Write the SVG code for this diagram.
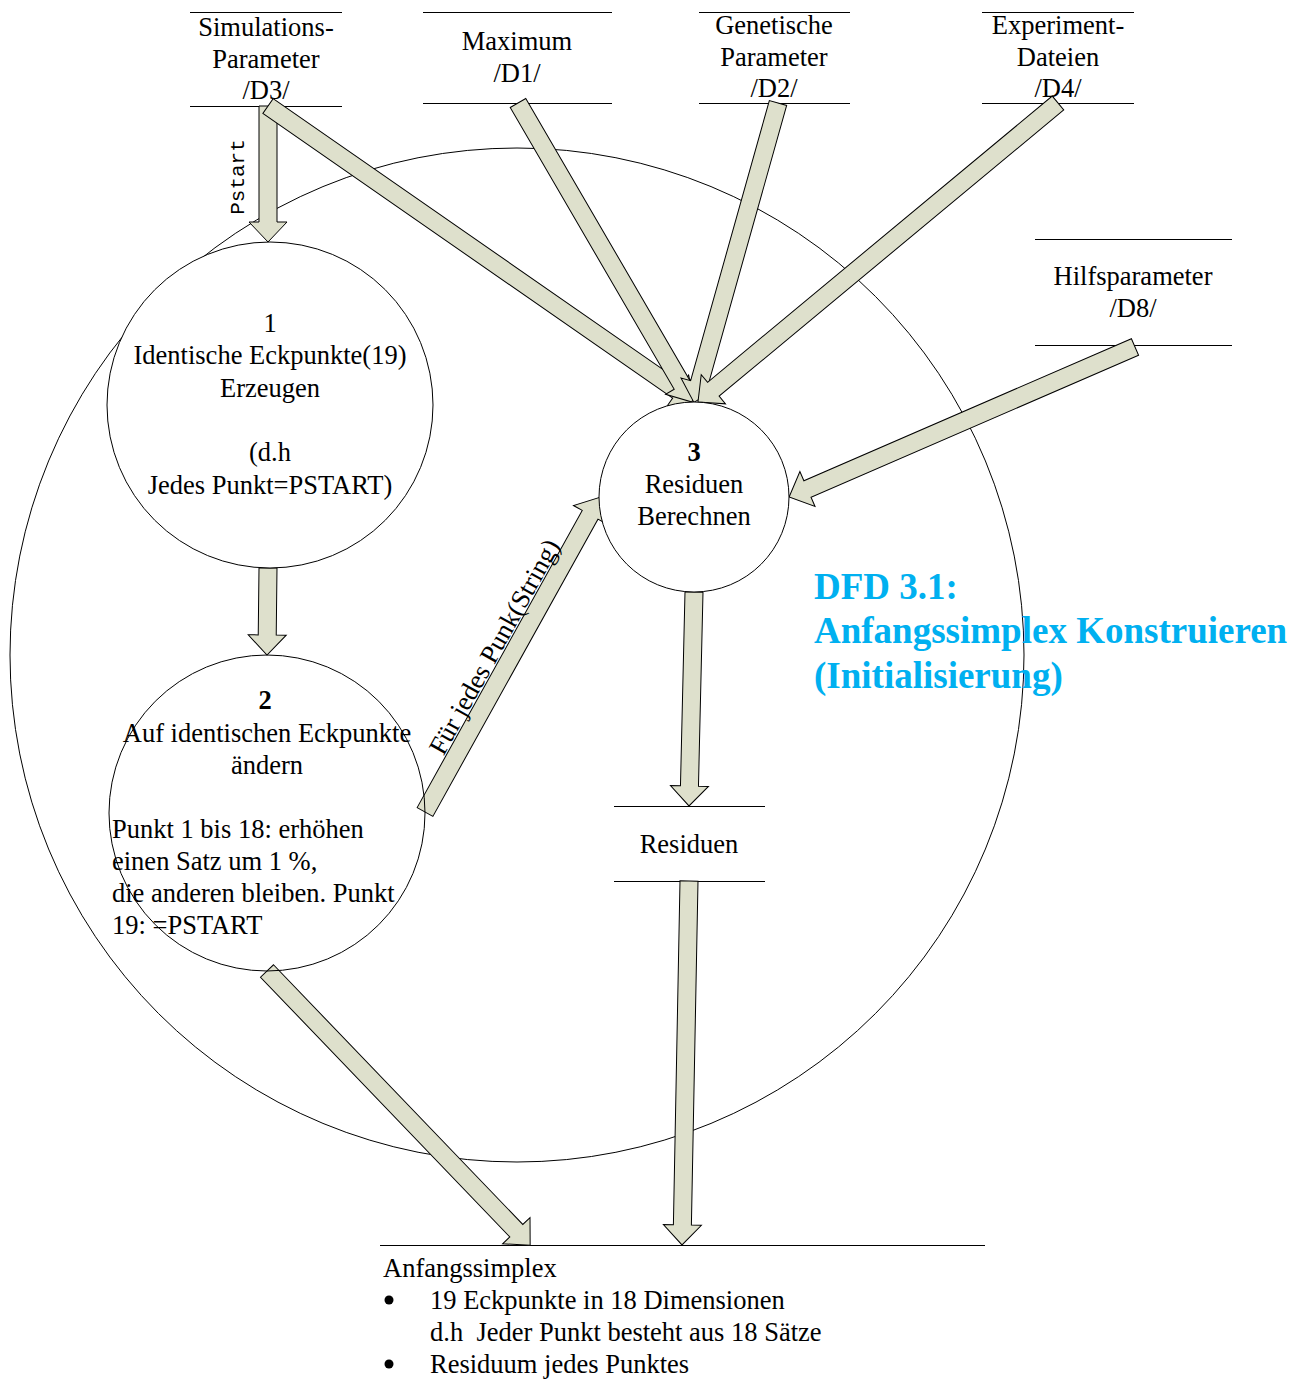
<svg xmlns="http://www.w3.org/2000/svg" width="1296" height="1385" viewBox="0 0 1296 1385">
<style>
text{font-family:"Liberation Serif","Times New Roman",serif;font-size:26.5px;fill:#000}
.c{text-anchor:middle}
.b{font-weight:bold}
.ln{stroke:#000;stroke-width:1;fill:none}
.node{stroke:#000;stroke-width:1}
.arr{fill:#dee0cc;stroke:#000;stroke-width:1;stroke-linejoin:miter}
.title{font-size:37px;font-weight:bold;fill:#00b0f0}
.mono{font-family:"Liberation Mono","Courier New",monospace;font-size:21px}
</style>
<rect width="1296" height="1385" fill="#fff"/>
<circle id="boundary" cx="517" cy="655" r="507" class="ln"/>

<g id="store-D3">
<line x1="190" y1="12.5" x2="342" y2="12.5" class="ln"/>
<line x1="190" y1="106.5" x2="342" y2="106.5" class="ln"/>
<text x="266" y="36" class="c">Simulations-</text>
<text x="266" y="68" class="c">Parameter</text>
<text x="266" y="99" class="c">/D3/</text>
</g>
<g id="store-D1">
<line x1="423" y1="12.5" x2="612" y2="12.5" class="ln"/>
<line x1="423" y1="103.5" x2="612" y2="103.5" class="ln"/>
<text x="517" y="50" class="c">Maximum</text>
<text x="517" y="82" class="c">/D1/</text>
</g>
<g id="store-D2">
<line x1="699" y1="12.5" x2="850" y2="12.5" class="ln"/>
<line x1="699" y1="103.5" x2="850" y2="103.5" class="ln"/>
<text x="774" y="34" class="c">Genetische</text>
<text x="774" y="66" class="c">Parameter</text>
<text x="774" y="97" class="c">/D2/</text>
</g>
<g id="store-D4">
<line x1="982" y1="12.5" x2="1134" y2="12.5" class="ln"/>
<line x1="982" y1="103.5" x2="1134" y2="103.5" class="ln"/>
<text x="1058" y="34" class="c">Experiment-</text>
<text x="1058" y="66" class="c">Dateien</text>
<text x="1058" y="97" class="c">/D4/</text>
</g>
<g id="store-D8">
<line x1="1035" y1="239.5" x2="1232" y2="239.5" class="ln"/>
<line x1="1035" y1="345.5" x2="1232" y2="345.5" class="ln"/>
<text x="1133" y="285" class="c">Hilfsparameter</text>
<text x="1133" y="317" class="c">/D8/</text>
</g>
<g id="store-Residuen">
<line x1="614" y1="806.5" x2="765" y2="806.5" class="ln"/>
<line x1="614" y1="881.5" x2="765" y2="881.5" class="ln"/>
<text x="689" y="853" class="c">Residuen</text>
</g>
<g id="store-Anfangssimplex">
<line x1="380" y1="1245.5" x2="985" y2="1245.5" class="ln"/>
<text x="383" y="1277">Anfangssimplex</text>
<circle cx="389" cy="1300" r="4.5" fill="#000"/>
<text x="430" y="1309">19 Eckpunkte in 18 Dimensionen</text>
<text x="430" y="1341" xml:space="preserve">d.h  Jeder Punkt besteht aus 18 Sätze</text>
<circle cx="389" cy="1364" r="4.5" fill="#000"/>
<text x="430" y="1373">Residuum jedes Punktes</text>
</g>

<g id="connectors">
<polygon class="arr" transform="translate(268,106) rotate(90)" points="0,-9 116,-9 116,-19 136,0 116,19 116,9 0,9"/>
<polygon class="arr" transform="translate(268,106) rotate(34.79)" points="0,-9 499,-9 499,-19 519,0 499,19 499,9 0,9"/>
<polygon class="arr" transform="translate(518,103) rotate(59.8)" points="0,-9 326,-9 326,-19 346,0 326,19 326,9 0,9"/>
<polygon class="arr" transform="translate(778,103) rotate(105.69)" points="0,-9 291,-9 291,-19 311,0 291,19 291,9 0,9"/>
<polygon class="arr" transform="translate(1058,103) rotate(140.29)" points="0,-9 448,-9 448,-19 468,0 448,19 448,9 0,9"/>
<polygon class="arr" transform="translate(1135,347) rotate(156.56)" points="0,-9 357,-9 357,-19 377,0 357,19 357,9 0,9"/>
<polygon class="arr" transform="translate(268,568) rotate(90.66)" points="0,-9 67,-9 67,-19 87,0 67,19 67,9 0,9"/>
<polygon class="arr" transform="translate(425,812) rotate(-60.95)" points="0,-9 340,-9 340,-19 360,0 340,19 340,9 0,9"/>
<polygon class="arr" transform="translate(694,592) rotate(91.34)" points="0,-9 194,-9 194,-19 214,0 194,19 194,9 0,9"/>
<polygon class="arr" transform="translate(267,971) rotate(46.17)" points="0,-9 360,-9 360,-19 380,0 360,19 360,9 0,9"/>
<polygon class="arr" transform="translate(689,881) rotate(91.1)" points="0,-9 344,-9 344,-19 364,0 344,19 344,9 0,9"/>
<text class="mono c" transform="translate(244,177) rotate(-90)">Pstart</text>
<text class="c" transform="translate(502,651) rotate(-60.95)">Für jedes Punk(String)</text>
</g>

<g id="node-1">
<circle cx="270" cy="405" r="163" class="node" fill="#fff"/>
<text x="270" y="332" class="c">1</text>
<text x="270" y="364" class="c">Identische Eckpunkte(19)</text>
<text x="270" y="397" class="c">Erzeugen</text>
<text x="270" y="461" class="c">(d.h</text>
<text x="270" y="494" class="c">Jedes Punkt=PSTART)</text>
</g>
<g id="node-2">
<circle cx="267" cy="813" r="158" class="node" fill="none"/>
<text x="265" y="709" class="c b">2</text>
<text x="267" y="742" class="c">Auf identischen Eckpunkte</text>
<text x="267" y="774" class="c">ändern</text>
<text x="112" y="838">Punkt 1 bis 18: erhöhen</text>
<text x="112" y="870">einen Satz um 1 %,</text>
<text x="112" y="902">die anderen bleiben. Punkt</text>
<text x="112" y="934">19: =PSTART</text>
</g>
<g id="node-3">
<circle cx="694" cy="497" r="95" class="node" fill="#fff"/>
<text x="694" y="461" class="c b">3</text>
<text x="694" y="493" class="c">Residuen</text>
<text x="694" y="525" class="c">Berechnen</text>
</g>

<g id="title">
<text x="814" y="599" class="title">DFD 3.1:</text>
<text x="814" y="643" class="title">Anfangssimplex Konstruieren</text>
<text x="814" y="688" class="title">(Initialisierung)</text>
</g>
</svg>
